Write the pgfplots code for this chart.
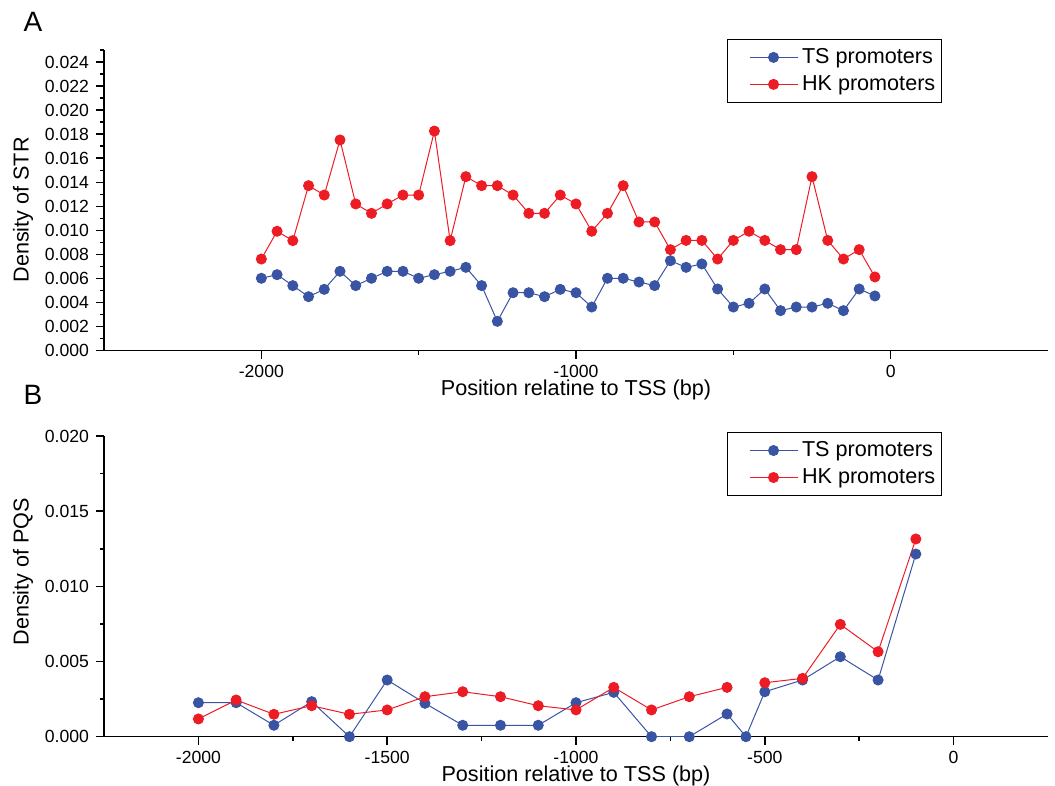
\documentclass[border=0pt]{standalone}
\usepackage{pgfplots}
\pgfplotsset{compat=1.18}
\usepackage{pgfplotstable}
\usepackage{fontspec}
\setmainfont{Liberation Sans}
\definecolor{tsblue}{HTML}{3A54A4}
\definecolor{hkred}{HTML}{ED1C24}

\pgfplotstableread{
x TS HK
-2000 0.00602 0.00762
-1950 0.00632 0.00993
-1900 0.00541 0.00915
-1850 0.00449 0.01372
-1800 0.00510 0.01294
-1750 0.00660 0.01752
-1700 0.00541 0.01220
-1650 0.00602 0.01142
-1600 0.00660 0.01220
-1550 0.00660 0.01294
-1500 0.00602 0.01294
-1450 0.00632 0.01826
-1400 0.00660 0.00915
-1350 0.00693 0.01447
-1300 0.00541 0.01372
-1250 0.00244 0.01372
-1200 0.00482 0.01294
-1150 0.00482 0.01142
-1100 0.00449 0.01142
-1050 0.00510 0.01294
-1000 0.00482 0.01220
-950 0.00363 0.00993
-900 0.00602 0.01142
-850 0.00602 0.01372
-800 0.00571 0.01070
-750 0.00541 0.01070
-700 0.00748 0.00840
-650 0.00693 0.00917
-600 0.00721 0.00917
-550 0.00513 0.00762
-500 0.00363 0.00917
-450 0.00394 0.00993
-400 0.00513 0.00917
-350 0.00333 0.00840
-300 0.00363 0.00840
-250 0.00363 0.01447
-200 0.00394 0.00917
-150 0.00333 0.00762
-100 0.00513 0.00840
-50 0.00455 0.00613
}\strdata

\pgfplotstableread{
x TS HK
-2000 0.00226 0.00118
-1900 0.00226 0.00244
-1800 0.00076 0.00149
-1700 0.00233 0.00206
-1600 0.0 0.00149
-1500 0.00377 0.00178
-1400 0.00222 0.00266
-1300 0.00076 0.00299
-1200 0.00076 0.00266
-1100 0.00076 0.00206
-1000 0.00226 0.00178
-900 0.00295 0.00328
-800 0.0 0.00178
-700 0.0 0.00266
-600 0.00151 0.00328
-550 0.0 nan
-500 0.00299 0.00359
-400 0.00377 0.00388
-300 0.00532 0.00747
-200 0.00377 0.00565
-100 0.01215 0.01315
}\pqsdata

\pgfplotsset{
  myaxis/.style={
    scale only axis, width=472pt, height=150.35pt,
    anchor=south west,
    axis x line=bottom, axis y line=left,
    axis line style={-, line width=0.75pt},
    tick align=outside,
    major tick length=4pt, minor tick length=2pt,
    every tick/.style={black, line width=0.75pt},
    scaled y ticks=false, scaled x ticks=false,
    tick label style={font=\fontsize{8.8}{10}\selectfont},
    xticklabel style={yshift=0.5pt},
    label style={font=\fontsize{10.8}{12}\selectfont},
    unbounded coords=jump,
    legend cell align=left,
    legend style={font=\fontsize{10.8}{12}\selectfont, draw=black, line width=0.5pt,
      anchor=north west, inner xsep=1pt, inner ysep=2.5pt, row sep=0.5pt},
    legend image code/.code={
      \path[draw=none,fill=none] (0pt,0pt) -- (10pt,0pt);
      \draw[mark repeat=2, mark phase=2] plot coordinates {(10pt,0pt) (22pt,0pt) (34pt,0pt)};
    },
    ts/.style={tsblue, line width=0.5pt, mark=*, mark size=2.5pt, mark options={solid, fill=tsblue, draw=tsblue}},
    hk/.style={hkred, line width=0.5pt, mark=*, mark size=2.5pt, mark options={solid, fill=hkred, draw=hkred}},
  }
}

\begin{document}
\begin{tikzpicture}
\path[use as bounding box] (0,0) rectangle (527.5pt,393pt);

\begin{axis}[myaxis, at={(52pt,217.65pt)},
  xmin=-2500, xmax=500, ymin=0, ymax=0.025,
  xtick={-2000,-1000,0}, xticklabels={-2000,-1000,0},
  minor xtick={-1500,-500},
  ytick={0,0.002,0.004,0.006,0.008,0.010,0.012,0.014,0.016,0.018,0.020,0.022,0.024},
  yticklabels={0.000,0.002,0.004,0.006,0.008,0.010,0.012,0.014,0.016,0.018,0.020,0.022,0.024},
  minor ytick={0.001,0.003,0.005,0.007,0.009,0.011,0.013,0.015,0.017,0.019,0.021,0.023,0.025},
  xlabel={Position relatine to TSS (bp)},
  xlabel style={at={(axis description cs:0.5,-0.131)}, anchor=center},
  ylabel={Density of STR},
  ylabel style={at={(axis description cs:-0.0858,0.468)}, anchor=center},
  legend style={at={(axis description cs:0.66,1.037)}},
]
\addplot[ts] table[x=x, y=TS] {\strdata};
\addlegendentry{TS promoters}
\addplot[hk] table[x=x, y=HK] {\strdata};
\addlegendentry{HK promoters}
\end{axis}

\begin{axis}[myaxis, at={(52pt,24.65pt)},
  xmin=-2250, xmax=250, ymin=0, ymax=0.020,
  xtick={-2000,-1500,-1000,-500,0}, xticklabels={-2000,-1500,-1000,-500,0},
  minor xtick={-1750,-1250,-750,-250},
  ytick={0,0.005,0.010,0.015,0.020},
  yticklabels={0.000,0.005,0.010,0.015,0.020},
  minor ytick={0.0025,0.0075,0.0125,0.0175},
  xlabel={Position relative to TSS (bp)},
  xlabel style={at={(axis description cs:0.5,-0.131)}, anchor=center},
  ylabel={Density of PQS},
  ylabel style={at={(axis description cs:-0.0858,0.549)}, anchor=center},
  legend style={at={(axis description cs:0.66,1.0133)}},
]
\addplot[ts] table[x=x, y=TS] {\pqsdata};
\addlegendentry{TS promoters}
\addplot[hk] table[x=x, y=HK] {\pqsdata};
\addlegendentry{HK promoters}
\end{axis}

\node[font=\fontsize{14}{16}\selectfont] at (16.5pt,382pt) {A};
\node[font=\fontsize{14}{16}\selectfont] at (16.5pt,195.5pt) {B};
\end{tikzpicture}
\end{document}
